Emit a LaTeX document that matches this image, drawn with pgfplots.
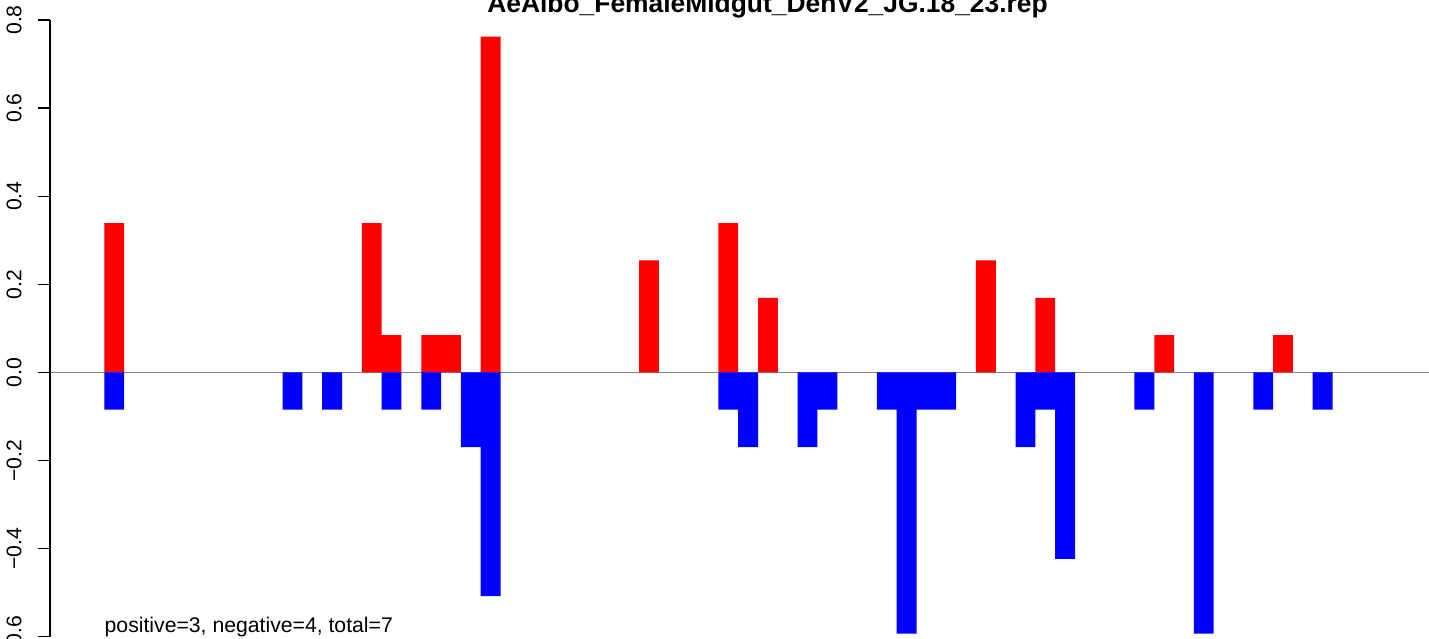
\documentclass[border=0pt]{standalone}
\usepackage{pgfplots}
\pgfplotsset{compat=1.18}
\usepackage{fontspec}
\setmainfont{Liberation Sans}

\begin{document}
\begin{tikzpicture}
\begin{axis}[
    scale only axis,
    width=689.5pt, height=319pt,
    xmin=-2.741, xmax=66.87,
    ymin=-0.603, ymax=0.8454,
    clip=false,
    axis x line=none,
    axis y line*=left,
    y axis line style={draw=none},
    xtick=\empty,
    ytick={-0.6,-0.4,-0.2,0,0.2,0.4,0.6,0.8},
    yticklabels={−0.6,−0.4,−0.2,0.0,0.2,0.4,0.6,0.8},
    tick align=outside,
    major tick length=6pt,
    tick style={black, line width=0.6pt},
    yticklabel style={xshift=-8pt, rotate=90, anchor=south, inner sep=0pt,
        font=\fontsize{10.6}{12}\selectfont},
]
% zero line
\addplot[color={rgb,255:red,128;green,128;blue,128}, line width=0.6pt]
    coordinates {(-2.741,0) (66.87,0)};

% positive counts
\addplot[ybar, bar width=1, bar shift=0pt, fill={rgb,255:red,255;green,0;blue,0}, draw=none]
    coordinates {(0.5,0.3388) (13.5,0.3388) (14.5,0.0847) (16.5,0.0847) (17.5,0.0847)
                 (19.5,0.7623) (27.5,0.2541) (31.5,0.3388) (33.5,0.1694) (44.5,0.2541)
                 (47.5,0.1694) (53.5,0.0847) (59.5,0.0847)};

% negative counts
\addplot[ybar, bar width=1, bar shift=0pt, fill={rgb,255:red,0;green,0;blue,255}, draw=none]
    coordinates {(0.5,-0.0847) (9.5,-0.0847) (11.5,-0.0847) (14.5,-0.0847) (16.5,-0.0847)
                 (18.5,-0.1694) (19.5,-0.5082) (31.5,-0.0847) (32.5,-0.1694) (35.5,-0.1694)
                 (36.5,-0.0847) (39.5,-0.0847) (40.5,-0.5929) (41.5,-0.0847) (42.5,-0.0847)
                 (46.5,-0.1694) (47.5,-0.0847) (48.5,-0.4235) (52.5,-0.0847) (55.5,-0.5929)
                 (58.5,-0.0847) (61.5,-0.0847)};

% y axis line, R style (first to last tick)
\draw[black, line width=0.6pt] (axis cs:-2.741,-0.6) -- (axis cs:-2.741,0.8);

\node[anchor=base, inner sep=0pt, font=\bfseries\fontsize{13.2}{15}\selectfont]
    at (axis cs:33.48,0.8166) {AeAlbo\_FemaleMidgut\_DenV2\_JG.18\_23.rep};
\node[anchor=base west, inner sep=0pt, font=\fontsize{10.6}{12}\selectfont]
    at (axis cs:0,-0.591) {positive=3, negative=4, total=7};

\coordinate (bl) at (axis cs:-5.265,-0.603);
\coordinate (tr) at (axis cs:66.87,0.8454);
\end{axis}
\pgfresetboundingbox
\useasboundingbox (bl) rectangle (tr);
\end{tikzpicture}
\end{document}
